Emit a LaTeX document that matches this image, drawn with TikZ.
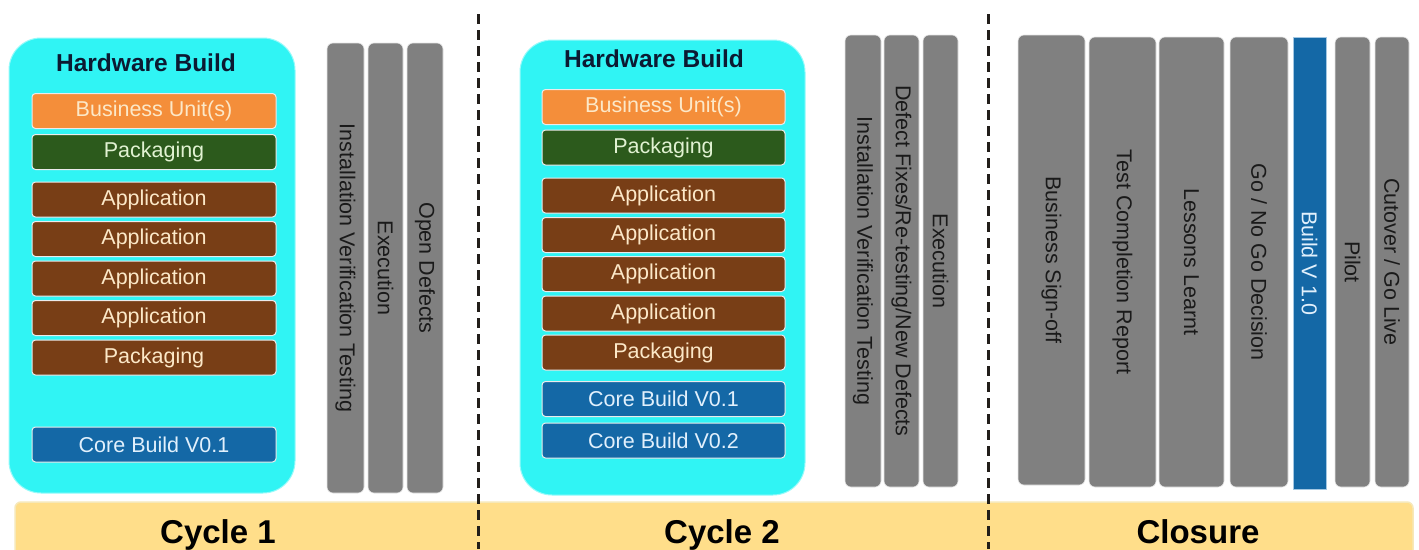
\documentclass[tikz,border=0pt]{standalone}
\usepackage{fontspec}
\setmainfont{Liberation Sans}
\definecolor{cyanbox}{RGB}{48,244,244}
\definecolor{cyanedge}{RGB}{150,250,250}
\definecolor{orangeC}{RGB}{244,142,58}
\definecolor{greenC}{RGB}{44,90,28}
\definecolor{brownC}{RGB}{120,62,22}
\definecolor{blueC}{RGB}{20,104,166}
\definecolor{grayC}{RGB}{128,128,128}
\definecolor{creamT}{RGB}{252,232,200}
\definecolor{greenT}{RGB}{225,242,210}
\definecolor{blueT}{RGB}{225,240,252}
\definecolor{darkT}{RGB}{26,26,26}
\definecolor{navyT}{RGB}{12,26,50}
\definecolor{yellowC}{RGB}{255,222,138}
\definecolor{yellowE}{RGB}{246,232,185}
\definecolor{dashC}{RGB}{34,30,26}
\tikzset{
  hw/.style={fill=cyanbox, draw=cyanedge, line width=1pt, rounded corners=32pt, inner sep=0pt},
  title/.style={font=\bfseries\fontsize{24.5}{29}\selectfont, text=navyT},
  item/.style={rounded corners=3.5pt, draw=white!92!black, line width=1pt, minimum height=35pt, inner sep=0pt, font=\fontsize{21.5}{25}\selectfont, text=creamT},
  bu/.style={item, fill=orangeC},
  pk/.style={item, fill=greenC, text=greenT},
  app/.style={item, fill=brownC},
  core/.style={item, fill=blueC, text=blueT},
  vbar/.style={rotate=-90, fill=grayC, draw=white!80!grayC, line width=0.6pt, rounded corners=6pt, inner sep=0pt, font=\fontsize{21.5}{25}\selectfont, text=darkT},
  vblue/.style={rotate=-90, fill=blueC, draw=blueT!70!blueC, line width=0.6pt, inner sep=0pt, font=\fontsize{21.5}{25}\selectfont, text=blueT},
  ybar/.style={fill=yellowC, draw=yellowE, line width=1.5pt, rounded corners=6pt, inner sep=0pt},
  cyc/.style={font=\bfseries\fontsize{33}{38}\selectfont, text=black, anchor=base},
  sep/.style={draw=dashC, line width=3pt, dash pattern=on 10pt off 6pt},
}
\begin{document}
\begin{tikzpicture}[x=1pt,y=1pt]
\useasboundingbox[fill=white] (0,0) rectangle (1419,-549);

% bottom bar
\node[ybar, minimum width=1398pt, minimum height=70pt] (band) at (714,-537) {};
\node[cyc] (c1) at (218,-543) {Cycle 1};
\node[cyc] (c2) at (722,-543) {Cycle 2};
\node[cyc] (c3) at (1198,-543) {Closure};

% Cycle 1 hardware build
\node[hw, minimum width=286pt, minimum height=455pt] (hw1) at (152,-265.5) {};
\node[title] (t1) at (146,-63) {Hardware Build};
\node[bu,  minimum width=244pt] (a1) at (154,-111)   {Business Unit(s)};
\node[pk,  minimum width=244pt] (a2) at (154,-152)   {Packaging};
\node[app, minimum width=244pt] (a3) at (154,-199.5) {Application};
\node[app, minimum width=244pt] (a4) at (154,-239)   {Application};
\node[app, minimum width=244pt] (a5) at (154,-278.5) {Application};
\node[app, minimum width=244pt] (a6) at (154,-318)   {Application};
\node[app, minimum width=244pt] (a7) at (154,-357.5) {Packaging};
\node[core,minimum width=244pt] (a8) at (154,-444.5) {Core Build V0.1};

% Cycle 1 bars
\node[vbar, minimum width=450pt, minimum height=37pt] (g1) at (345.5,-268) {Installation Verification Testing};
\node[vbar, minimum width=450pt, minimum height=35pt] (g2) at (385.5,-268) {Execution};
\node[vbar, minimum width=450pt, minimum height=36pt] (g3) at (425,-268)   {Open Defects};

% Cycle 2 hardware build
\node[hw, minimum width=285pt, minimum height=455pt] (hw2) at (662.5,-267.5) {};
\node[title] (t2) at (654,-59) {Hardware Build};
\node[bu,  minimum width=243pt] (b1) at (663.5,-107)   {Business Unit(s)};
\node[pk,  minimum width=243pt] (b2) at (663.5,-147.5) {Packaging};
\node[app, minimum width=243pt] (b3) at (663.5,-195.5) {Application};
\node[app, minimum width=243pt] (b4) at (663.5,-235)   {Application};
\node[app, minimum width=243pt] (b5) at (663.5,-274)   {Application};
\node[app, minimum width=243pt] (b6) at (663.5,-313.5) {Application};
\node[app, minimum width=243pt] (b7) at (663.5,-352.5) {Packaging};
\node[core,minimum width=243pt] (b8) at (663.5,-399)   {Core Build V0.1};
\node[core,minimum width=243pt] (b9) at (663.5,-440.5) {Core Build V0.2};

% Cycle 2 bars
\node[vbar, minimum width=452pt, minimum height=36pt] (h1) at (863,-261)   {Installation Verification Testing};
\node[vbar, minimum width=452pt, minimum height=35pt] (h2) at (901.5,-261) {Defect Fixes/Re-testing/New Defects};
\node[vbar, minimum width=452pt, minimum height=35pt] (h3) at (940.5,-261) {Execution};

% Closure bars
\node[vbar, minimum width=450pt, minimum height=67pt] (k1) at (1051.5,-260) {Business Sign-off};
\node[vbar, minimum width=450pt, minimum height=67pt] (k2) at (1122.5,-262) {Test Completion Report};
\node[vbar, minimum width=450pt, minimum height=65pt] (k3) at (1191.5,-262) {Lessons Learnt};
\node[vbar, minimum width=450pt, minimum height=58pt] (k4) at (1259,-262)   {Go / No Go Decision};
\node[vblue,minimum width=452pt, minimum height=33pt] (k5) at (1309.5,-263) {Build V 1.0};
\node[vbar, minimum width=450pt, minimum height=35pt] (k6) at (1352.5,-262) {Pilot};
\node[vbar, minimum width=450pt, minimum height=34pt] (k7) at (1392,-262)   {Cutover / Go Live};

% separators
\coordinate (s1top) at (478,-14);
\coordinate (s1bot) at (478,-549);
\coordinate (s2top) at (988,-14);
\coordinate (s2bot) at (988,-549);
\draw[sep] (s1top) -- (s1bot);
\draw[sep] (s2top) -- (s2bot);
\end{tikzpicture}
\end{document}
